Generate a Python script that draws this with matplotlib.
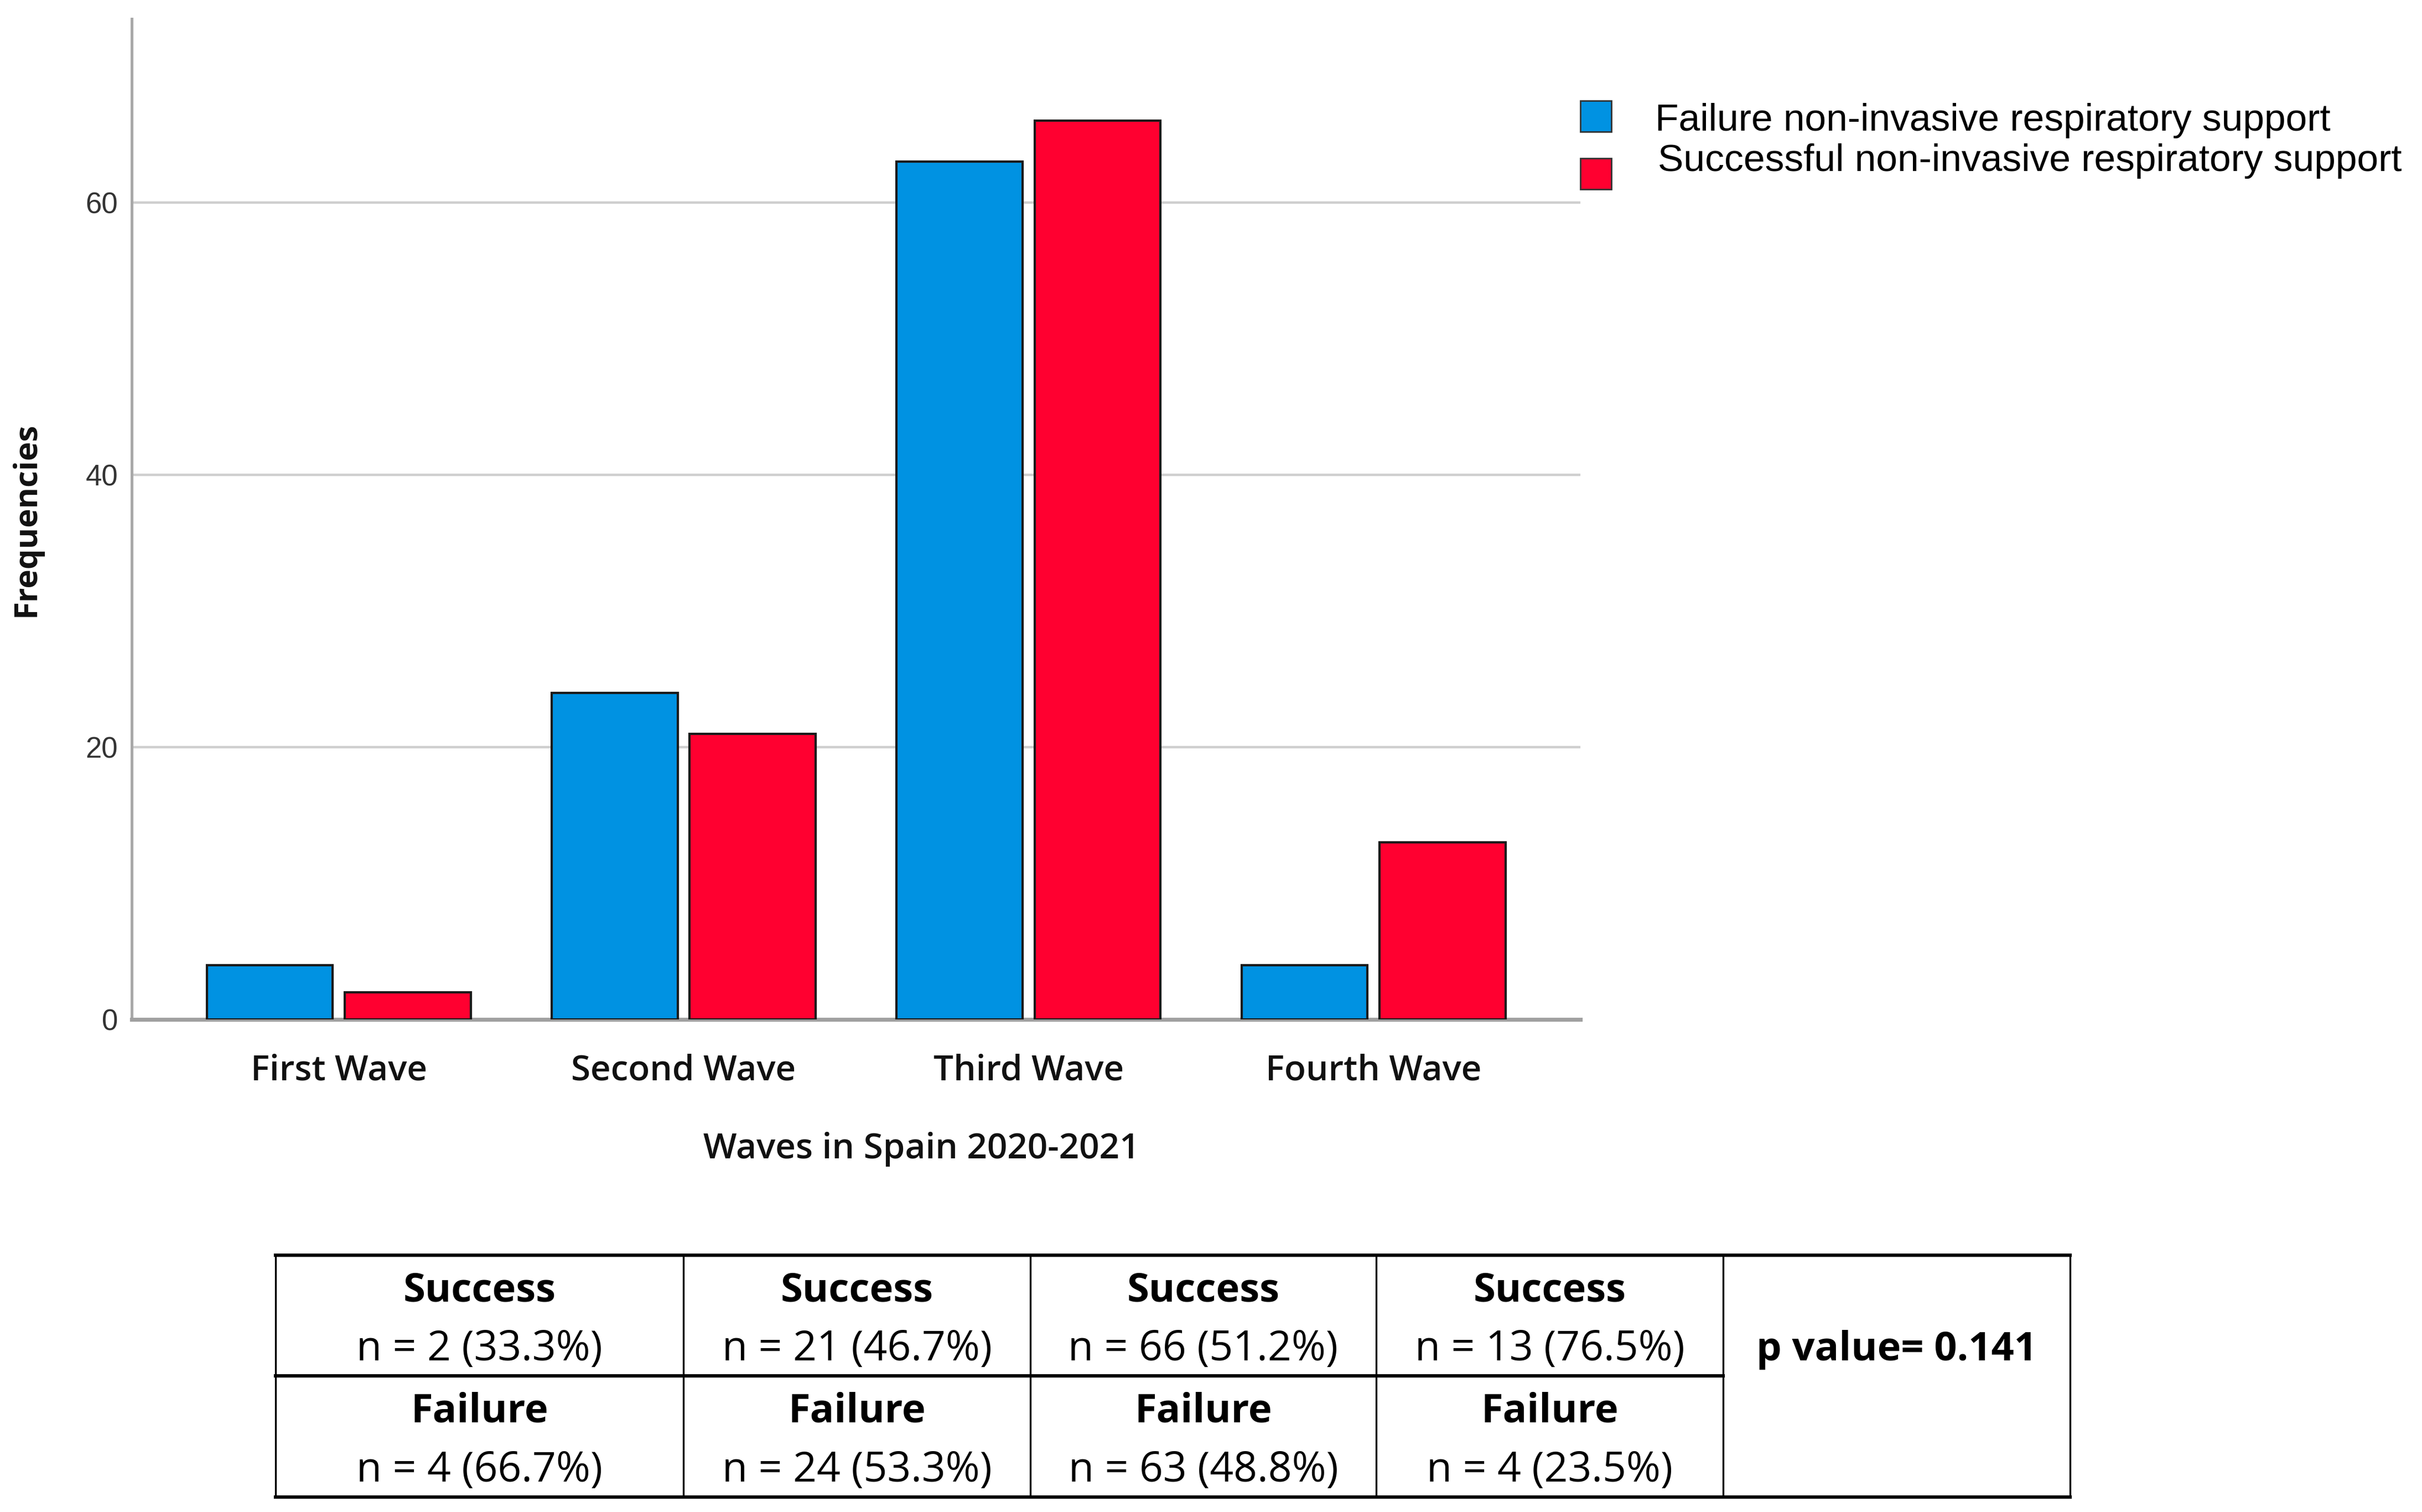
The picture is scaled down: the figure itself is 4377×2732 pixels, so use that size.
import matplotlib.pyplot as plt
import numpy as np
from matplotlib.patches import Rectangle

# datos
waves = ["First Wave", "Second Wave", "Third Wave", "Fourth Wave"]
failure = [4, 24, 63, 4]
success = [2, 21, 66, 13]
p_value = "0.141"
y_ticks = [0, 20, 40, 60]

blue = "#0092E2"
red = "#FF0030"

W, H = 1563, 975.7  # layout units (reference px / 2.8)
fig = plt.figure(figsize=(21.885, 13.66), dpi=200, facecolor="white")

# main axes
ax = fig.add_axes([85 / W, 1 - 658 / H, (1020 - 85) / W, (658 - 12) / H])
x = np.arange(len(waves))
ax.bar(x - 0.2, failure, 0.365, color=blue, edgecolor="#1a1a1a", linewidth=1.5, zorder=3)
ax.bar(x + 0.2, success, 0.365, color=red, edgecolor="#1a1a1a", linewidth=1.5, zorder=3)
ax.set_xlim(-0.6, 3.6)
ax.set_ylim(0, 73.5)

ax.set_yticks(y_ticks)
ax.set_yticklabels([str(v) for v in y_ticks], family=["Liberation Sans Narrow", "Liberation Sans"],
                   fontsize=19, color="#333333")
ax.set_xticks(x)
ax.set_xticklabels(waves, family="Open Sans", fontweight="semibold", fontsize=23, color="#111111")
ax.tick_params(axis="both", length=0)
ax.tick_params(axis="x", pad=22)
ax.tick_params(axis="y", pad=9)

ax.grid(True, axis="y", color="#cfcfcf", linewidth=1.6, zorder=0)
ax.set_axisbelow(True)
for s in ["top", "right"]:
    ax.spines[s].set_visible(False)
ax.spines["left"].set_color("#a8a8a8")
ax.spines["left"].set_linewidth(1.8)
ax.spines["bottom"].set_color("#a0a0a0")
ax.spines["bottom"].set_linewidth(2.6)

ax.set_xlabel("Waves in Spain 2020-2021", family="Open Sans", fontweight="semibold",
              fontsize=23, color="#111111")
ax.xaxis.set_label_coords(0.545, -0.112)
ax.set_ylabel("Frequencies", family="Open Sans", fontweight="bold", fontsize=21,
              labelpad=28, color="#111111")

# leyenda manual
lab_f = "Failure non-invasive respiratory support"
lab_s = "Successful non-invasive respiratory support"
fig.patches.append(Rectangle((1020 / W, 1 - 85 / H), 20 / W, 20 / H, transform=fig.transFigure,
                             facecolor=blue, edgecolor="#333333", linewidth=1.0))
fig.patches.append(Rectangle((1020 / W, 1 - 122 / H), 20 / W, 20 / H, transform=fig.transFigure,
                             facecolor=red, edgecolor="#333333", linewidth=1.0))
fig.text(1068 / W, 1 - 78 / H, lab_f, family="Liberation Sans", fontsize=25, va="center", ha="left")
fig.text(1070 / W, 1 - 104 / H, lab_s, family="Liberation Sans", fontsize=25, va="center", ha="left")

# tabla
tax = fig.add_axes([0, 0, 1, 1])
tax.set_xlim(0, W)
tax.set_ylim(H, 0)
tax.axis("off")
cols = [178, 441, 665, 888, 1112, 1336]
top, mid, bot = 810, 888, 966
tax.plot([cols[0], cols[-1]], [top, top], color="black", lw=2.2)
tax.plot([cols[0], cols[-1]], [bot, bot], color="black", lw=2.2)
tax.plot([cols[0], cols[4]], [mid, mid], color="black", lw=2.2)
for c in cols:
    tax.plot([c, c], [top, bot], color="black", lw=1.2)

for i in range(len(waves)):
    tot = success[i] + failure[i]
    cx = (cols[i] + cols[i + 1]) / 2
    tax.text(cx, 833, "Success", ha="center", va="center", family="Open Sans",
             fontweight="bold", fontsize=26)
    tax.text(cx, 871, f"n = {success[i]} ({100 * success[i] / tot:.1f}%)", ha="center",
             va="center", family="Open Sans", fontsize=27)
    tax.text(cx, 911, "Failure", ha="center", va="center", family="Open Sans",
             fontweight="bold", fontsize=26)
    tax.text(cx, 949, f"n = {failure[i]} ({100 * failure[i] / tot:.1f}%)", ha="center",
             va="center", family="Open Sans", fontsize=27)
tax.text((cols[4] + cols[5]) / 2, 871, f"p value= {p_value}", ha="center", va="center",
         family="Open Sans", fontweight="bold", fontsize=26)

plt.savefig("out.png", dpi=200, facecolor="white")
